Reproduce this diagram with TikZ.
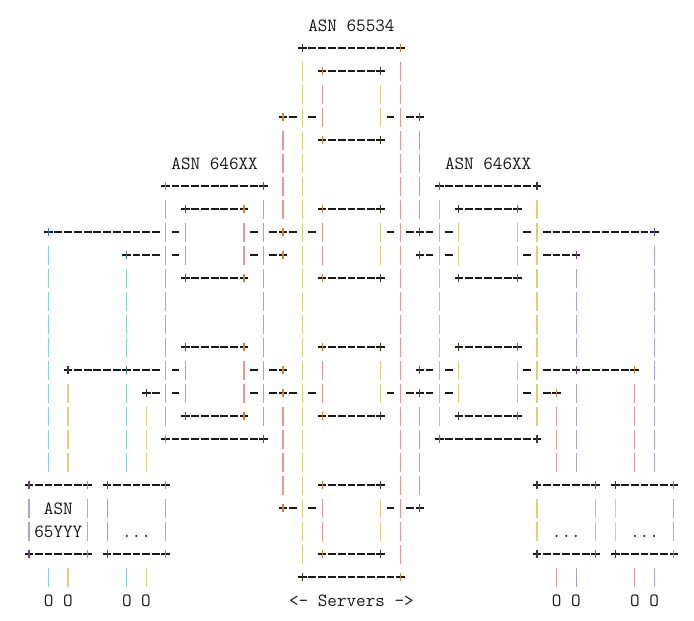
\documentclass[tikz,border=0pt]{standalone}

% colores de las barras (tinte claro) y de las cruces
\definecolor{barR}{RGB}{238,150,150}
\definecolor{barB}{RGB}{162,162,230}
\definecolor{barY}{RGB}{222,208,118}
\definecolor{barC}{RGB}{135,210,232}
\definecolor{plsR}{RGB}{214,128,52}
\definecolor{plsB}{RGB}{110,62,142}
\definecolor{plsY}{RGB}{60,60,45}
\definecolor{plsC}{RGB}{60,118,178}
\definecolor{ink}{RGB}{25,25,25}

% clase de color, columna, filas
\newcommand{\barsat}[3]{%
  \foreach \r in {#3} \draw[bar, bar#1] (#2,\r-0.40) -- (#2,\r+0.43);}
% clase de color, columna, fila
\newcommand{\crossat}[3]{%
  \draw[dsh] (#2-0.44,#3) -- (#2+0.44,#3);
  \draw[bar, pls#1] (#2,#3-0.19) -- (#2,#3+0.19);}
% fila, desde, hasta
\newcommand{\dashrun}[3]{%
  \foreach \c in {#2,...,#3} \draw[dsh] (\c-0.40,#1) -- (\c+0.40,#1);}
% fila, columnas sueltas
\newcommand{\dashes}[2]{%
  \foreach \c in {#2} \draw[dsh] (\c-0.40,#1) -- (\c+0.40,#1);}
% izquierda, arriba, ancho, alto, clase izq., clase der.
\newcommand{\frameat}[6]{%
  \pgfmathtruncatemacro{\boxA}{#1+1}\pgfmathtruncatemacro{\boxB}{#1+#3-1}%
  \pgfmathtruncatemacro{\boxR}{#1+#3}\pgfmathtruncatemacro{\boxE}{#2+#4}%
  \pgfmathtruncatemacro{\boxS}{#2+1}\pgfmathtruncatemacro{\boxT}{#2+#4-1}%
  \crossat{#5}{#1}{#2}\crossat{#6}{\boxR}{#2}%
  \crossat{#5}{#1}{\boxE}\crossat{#6}{\boxR}{\boxE}%
  \dashrun{#2}{\boxA}{\boxB}\dashrun{\boxE}{\boxA}{\boxB}%
  \barsat{#5}{#1}{\boxS,...,\boxT}\barsat{#6}{\boxR}{\boxS,...,\boxT}}

\begin{document}
\begin{tikzpicture}[x=0.2931cm, y=-0.69cm,
  bar/.style={line width=1pt},
  dsh/.style={line width=0.95pt, ink},
  txt/.style={font=\ttfamily\fontsize{15.9}{18}\selectfont, text=ink,
              inner sep=0pt, anchor=base}]

  \path[use as bounding box, fill=white] (-2.968,-1.087) rectangle (68.065,25.870);

  % bloque central (ASN 65534) y bloques laterales (ASN 646XX)
  \frameat{28}{1}{10}{23}{Y}{R}
  \frameat{14}{7}{10}{11}{R}{B}
  \frameat{42}{7}{10}{11}{C}{Y}

  % cajas interiores
  \foreach \t in {2,8,14,20} {\frameat{30}{\t}{6}{3}{R}{Y}}
  \foreach \t in {8,14} {\frameat{16}{\t}{6}{3}{B}{R}
                         \frameat{44}{\t}{6}{3}{Y}{C}}

  % cajas de abajo
  \frameat{0}{20}{6}{3}{B}{R}
  \frameat{8}{20}{6}{3}{B}{R}
  \frameat{52}{20}{6}{3}{Y}{C}
  \frameat{60}{20}{6}{3}{Y}{R}

  % enlaces junto al bloque central
  \barsat{R}{26}{5,6,7,8,17,18,19,20}
  \barsat{B}{40}{5,6,7,8,17,18,19,20}
  \foreach \t in {4,9,10,15,16,21} {\crossat{R}{26}{\t}\crossat{B}{40}{\t}}
  \dashes{4}{27,29,37,39}
  \dashes{21}{27,29,37,39}

  % enlaces horizontales
  \crossat{C}{2}{9}  \dashrun{9}{3}{13}
  \dashes{9}{15,23,25,27,29,37,39,41,43,51}
  \dashrun{9}{53}{63}  \crossat{B}{64}{9}

  \crossat{C}{10}{10}  \dashrun{10}{11}{13}
  \dashes{10}{15,23,25,41,43,51}
  \dashrun{10}{53}{55}  \crossat{B}{56}{10}

  \crossat{Y}{4}{15}  \dashrun{15}{5}{9}  \crossat{C}{10}{15}  \dashrun{15}{11}{13}
  \dashes{15}{15,23,25,41,43,51}
  \dashrun{15}{53}{55}  \crossat{B}{56}{15}  \dashrun{15}{57}{61}  \crossat{R}{62}{15}

  \crossat{Y}{12}{16}
  \dashes{16}{13,15,23,25,27,29,37,39,41,43,51,53}
  \crossat{R}{54}{16}

  % bajadas hacia las cajas de abajo
  \barsat{C}{2}{10,11,12,13,14,15,16,17,18,19,24}
  \barsat{Y}{4}{16,17,18,19,24}
  \barsat{C}{10}{11,12,13,14,16,17,18,19,24}
  \barsat{Y}{12}{17,18,19,24}
  \barsat{R}{54}{17,18,19,24}
  \barsat{B}{56}{11,12,13,14,16,17,18,19,24}
  \barsat{R}{62}{16,17,18,19,24}
  \barsat{B}{64}{10,11,12,13,14,15,16,17,18,19,24}

  % textos
  \node[txt] (asnTop)   at (33,0.28)  {ASN 65534};
  \node[txt] (asnLeft)  at (19,6.28)  {ASN 646XX};
  \node[txt] (asnRight) at (47,6.28)  {ASN 646XX};
  \node[txt] (asnYa)    at (3,21.28)  {ASN};
  \node[txt] (asnYb)    at (3,22.28)  {65YYY};
  \node[txt] (dotsA)    at (11,22.28) {...};
  \node[txt] (dotsB)    at (55,22.28) {...};
  \node[txt] (dotsC)    at (63,22.28) {...};
  \node[txt] (hostsA)   at (3,25.28)  {O O};
  \node[txt] (hostsB)   at (11,25.28) {O O};
  \node[txt] (hostsC)   at (55,25.28) {O O};
  \node[txt] (hostsD)   at (63,25.28) {O O};
  \node[txt] (servers)  at (33,25.28) {<- Servers ->};
\end{tikzpicture}
\end{document}
